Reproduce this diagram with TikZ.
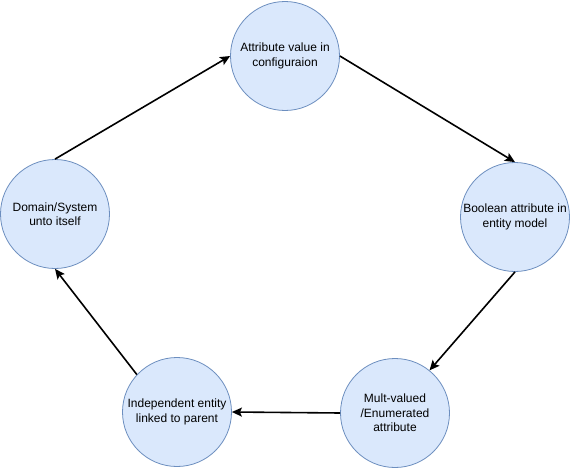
\documentclass[tikz,border=0pt]{standalone}
\usepackage{fontspec}
\setmainfont{Liberation Sans}
\usetikzlibrary{arrows.meta}
\definecolor{cfill}{HTML}{DAE8FC}
\definecolor{cline}{HTML}{6C8EBF}
\begin{document}
\begin{tikzpicture}[x=1pt,y=-1pt,
  circ/.style={circle,draw=cline,fill=cfill,line width=0.8pt,minimum size=109pt,inner sep=0pt,align=center,font=\fontsize{12}{14.5}\selectfont},
  conn/.style={line width=1.6pt,-{Stealth[length=10pt,width=9pt,inset=2pt]}}]
\path[use as bounding box,fill=white] (0,0) rectangle (571,471);
\node[circ] (T) at (285,56) {Attribute value in\\configuraion};
\node[circ] (R) at (515,217) {Boolean attribute in\\entity model};
\node[circ] (BR) at (395,413) {Mult-valued\\/Enumerated\\attribute};
\node[circ] (BL) at (177,412) {Independent entity\\linked to parent};
\node[circ] (L) at (55,214) {Domain/System\\unto itself};
\draw[conn] (L.north) -- (T.west);
\draw[conn] (T.east) -- (R.north);
\draw[conn] (R.south) -- (BR.51);
\draw[conn] (BR.west) -- (BL.east);
\draw[conn] (BL.137) -- (L.south);
\end{tikzpicture}
\end{document}
